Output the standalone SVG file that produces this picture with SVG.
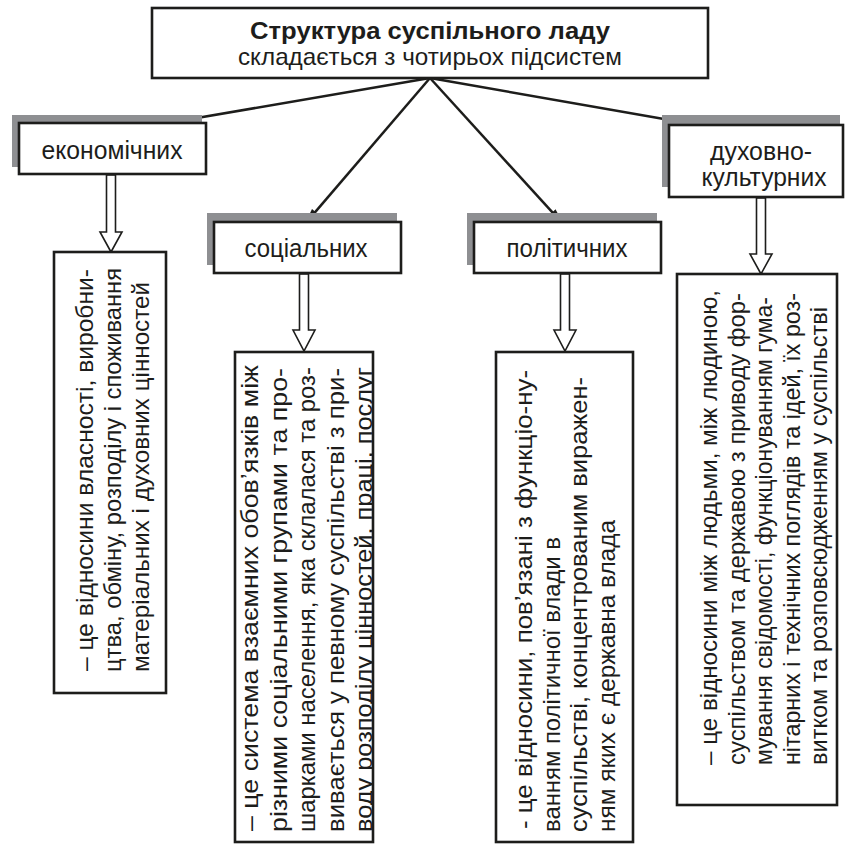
<svg xmlns="http://www.w3.org/2000/svg" width="850" height="846" viewBox="0 0 850 846">
<style>
text{font-family:"Liberation Sans",Arial,sans-serif;fill:#1d1d1b}
.lbl{font-size:25px;text-anchor:middle}
.t{font-size:24px;text-anchor:middle}
.v{font-size:23px}
.box{fill:#fff;stroke:#1d1d1b;stroke-width:2.6}
.sh{fill:#8e8f92}
.con{stroke:#1d1d1b;stroke-width:2.5;fill:none;marker-end:url(#ah)}
.ha{fill:#fff;stroke:#1d1d1b;stroke-width:1.6;stroke-linejoin:miter}
</style>
<defs>
<marker id="ah" markerUnits="userSpaceOnUse" markerWidth="17" markerHeight="10" refX="6" refY="4.5" orient="auto" viewBox="0 0 17 10">
<path d="M0,0 L16,4.5 L0,9 z" fill="#1d1d1b"/>
</marker>
<clipPath id="clipSoc"><rect x="236" y="353" width="136" height="488"/></clipPath>
</defs>

<g id="connectors">
<line class="con" x1="430" y1="78" x2="177.9" y2="121.3"/>
<line class="con" x1="430" y1="78" x2="311.5" y2="216.4"/>
<line class="con" x1="430" y1="78" x2="556.3" y2="216.6"/>
<line class="con" x1="430" y1="78" x2="688.2" y2="123.3"/>
<polygon class="ha" points="106.5,175 115.5,175 115.5,232 122,232 111,252 100,232 106.5,232"/>
<polygon class="ha" points="299.5,274 308.5,274 308.5,330 315,330 304,351 293,330 299.5,330"/>
<polygon class="ha" points="560.5,274 569.5,274 569.5,330 576,330 565,351 554,330 560.5,330"/>
<polygon class="ha" points="756.5,198 765.5,198 765.5,254 772,254 761,274 750,254 756.5,254"/>
</g>

<g id="root">
<rect class="box" x="152" y="8" width="556" height="70"/>
<text class="t" x="430" y="39" font-weight="bold" textLength="360" lengthAdjust="spacingAndGlyphs">Структура суспільного ладу</text>
<text class="t" x="430" y="65" textLength="384" lengthAdjust="spacingAndGlyphs">складається з чотирьох підсистем</text>
</g>

<g id="economic">
<rect class="sh" x="12" y="115" width="190" height="52"/>
<rect class="box" x="19" y="123" width="187" height="51"/>
<text class="lbl" x="112" y="159" textLength="141" lengthAdjust="spacingAndGlyphs">економічних</text>
</g>

<g id="social">
<rect class="sh" x="207" y="213" width="190" height="52"/>
<rect class="box" x="214" y="222" width="187" height="51"/>
<text class="lbl" x="306" y="257" textLength="123" lengthAdjust="spacingAndGlyphs">соціальних</text>
</g>

<g id="political">
<rect class="sh" x="467" y="213" width="190" height="52"/>
<rect class="box" x="474" y="222" width="187" height="51"/>
<text class="lbl" x="567" y="257" textLength="121" lengthAdjust="spacingAndGlyphs">політичних</text>
</g>

<g id="cultural">
<rect class="sh" x="662" y="115" width="178" height="72"/>
<rect class="box" x="669" y="125" width="174" height="72"/>
<text class="lbl" x="761" y="160" textLength="102" lengthAdjust="spacingAndGlyphs">духовно-</text>
<text class="lbl" x="764" y="186" textLength="125" lengthAdjust="spacingAndGlyphs">культурних</text>
</g>

<g id="economic-desc">
<rect class="box" x="54" y="252" width="112" height="441"/>
<text class="v" transform="translate(93,671) rotate(-90)" textLength="402" lengthAdjust="spacingAndGlyphs">– це відносини власності, виробни-</text>
<text class="v" transform="translate(121,672) rotate(-90)" textLength="404" lengthAdjust="spacingAndGlyphs">цтва, обміну, розподілу і споживання</text>
<text class="v" transform="translate(149,672) rotate(-90)" textLength="390" lengthAdjust="spacingAndGlyphs">матеріальних і духовних цінностей</text>
</g>

<g id="social-desc">
<rect class="box" x="235" y="352" width="138" height="490"/>
<g clip-path="url(#clipSoc)">
<text class="v" transform="translate(258,831) rotate(-90)" textLength="466" lengthAdjust="spacingAndGlyphs">– це система  взаємних обов’язків між</text>
<text class="v" transform="translate(287,832) rotate(-90)" textLength="464" lengthAdjust="spacingAndGlyphs">різними соціальними групами та про-</text>
<text class="v" transform="translate(315,832) rotate(-90)" textLength="465" lengthAdjust="spacingAndGlyphs">шарками населення, яка склалася та роз-</text>
<text class="v" transform="translate(344,832) rotate(-90)" textLength="464" lengthAdjust="spacingAndGlyphs">вивається у певному суспільстві з при-</text>
<text class="v" transform="translate(372,832) rotate(-90)" textLength="465" lengthAdjust="spacingAndGlyphs">воду розподілу цінностей, праці, послуг</text>
</g>
</g>

<g id="political-desc">
<rect class="box" x="496" y="352" width="137" height="490"/>
<text class="v" transform="translate(532,829) rotate(-90)" textLength="459" lengthAdjust="spacingAndGlyphs">- це відносини,  пов’язані з функціо-ну-</text>
<text class="v" transform="translate(560,832) rotate(-90)" textLength="295" lengthAdjust="spacingAndGlyphs">ванням політичної влади в</text>
<text class="v" transform="translate(587,832) rotate(-90)" textLength="455" lengthAdjust="spacingAndGlyphs">суспільстві,  концентрованим виражен-</text>
<text class="v" transform="translate(615,832) rotate(-90)" textLength="312" lengthAdjust="spacingAndGlyphs">ням яких є державна влада</text>
</g>

<g id="cultural-desc">
<rect class="box" x="677" y="274" width="160" height="531"/>
<text class="v" transform="translate(717,765) rotate(-90)" textLength="475" lengthAdjust="spacingAndGlyphs">– це відносини між людьми,  між людиною,</text>
<text class="v" transform="translate(745,765) rotate(-90)" textLength="472" lengthAdjust="spacingAndGlyphs">суспільством та державою з приводу фор-</text>
<text class="v" transform="translate(772,765) rotate(-90)" textLength="468" lengthAdjust="spacingAndGlyphs">мування свідомості, функціонуванням гума-</text>
<text class="v" transform="translate(800,765) rotate(-90)" textLength="472" lengthAdjust="spacingAndGlyphs">нітарних і технічних поглядів та ідей, їх роз-</text>
<text class="v" transform="translate(827,765) rotate(-90)" textLength="458" lengthAdjust="spacingAndGlyphs">витком та розповсюдженням у суспільстві</text>
</g>
</svg>
